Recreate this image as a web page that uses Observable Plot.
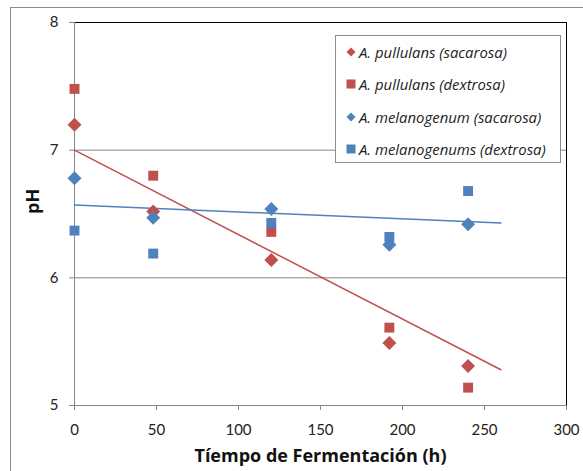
<!DOCTYPE html>
<html>
<head>
<meta charset="utf-8">
<script src="https://cdn.jsdelivr.net/npm/d3@7"></script>
<script src="https://cdn.jsdelivr.net/npm/@observablehq/plot@0.6"></script>
<style>
  html, body { margin: 0; padding: 0; background: #fff; }
  #wrap { position: relative; width: 583px; height: 471px; overflow: hidden; background: #fff; font-family: "Open Sans", Lato, sans-serif; }
  #frame { position: absolute; left: 10px; top: 7px; width: 640px; height: 520px; border: 1px solid #8c8c8c; box-sizing: border-box; }
  #chart { position: absolute; left: 0; top: 0; }
  #legend { position: absolute; left: 335px; top: 35px; width: 226px; height: 128px; border: 1px solid #8c8c8c; box-sizing: border-box; background: #fff; }
  .item { position: absolute; left: 0; height: 20px; display: flex; align-items: center; }
  .item svg { margin-left: 10px; margin-right: 3px; }
  .item span { font-style: italic; font-size: 14.9px; color: #222; white-space: nowrap; font-family: "Open Sans", sans-serif; }
</style>
</head>
<body>
<div id="wrap">
  <div id="frame"></div>
  <div id="chart"></div>
  <div id="legend"></div>
</div>
<script>
// ---- data ----
const hours = [0, 48, 120, 192, 240];
const pullulansSacarosa = [7.20, 6.52, 6.14, 5.49, 5.31];
const pullulansDextrosa = [7.48, 6.80, 6.36, 5.61, 5.14];
const melanogenumSacarosa = [6.78, 6.47, 6.54, 6.26, 6.42];
const melanogenumsDextrosa = [6.37, 6.19, 6.43, 6.32, 6.68];
const trendHours = [0, 260];
const trendPullulans = [7.00, 5.28];
const trendMelanogenum = [6.57, 6.43];
const xTicks = [0, 50, 100, 150, 200, 250, 300];
const yTicks = [5, 6, 7, 8];
const seriesNames = ["A. pullulans (sacarosa)", "A. pullulans (dextrosa)", "A. melanogenum (sacarosa)", "A. melanogenums (dextrosa)"];
const xLabel = "Tíempo de Fermentación (h)";
const yLabel = "pH";

const RED = "#C0504D", BLUE = "#4F81BD";
const seriesValues = [pullulansSacarosa, pullulansDextrosa, melanogenumSacarosa, melanogenumsDextrosa];
const seriesColors = [RED, RED, BLUE, BLUE];
const seriesSymbols = ["diamond2", "square", "diamond2", "square"];
const seriesR = [6.3, 5.6, 6.3, 5.6];

const toRows = (vals) => hours.map((h, i) => ({x: h, y: vals[i]}));
const trendRows = (vals) => trendHours.map((h, i) => ({x: h, y: vals[i]}));

const grid = "#878787";
const plot = Plot.plot({
  width: 583,
  height: 471,
  marginLeft: 74,
  marginRight: 17,
  marginTop: 22,
  marginBottom: 66,
  style: {fontFamily: "Lato, 'Open Sans', sans-serif", background: "transparent", overflow: "visible"},
  x: {domain: [0, 300]},
  y: {domain: [5, 8]},
  marks: [
    Plot.ruleY([6, 7], {stroke: grid}),
    Plot.ruleY([8], {stroke: "#000"}),
    Plot.ruleX([300], {stroke: "#000"}),
    Plot.ruleX([0], {stroke: grid}),
    Plot.ruleY([5], {stroke: grid}),
    Plot.axisX({ticks: xTicks, tickFormat: d3.format("d"), tickSize: 5, tickPadding: 14, fontSize: 15, label: null, stroke: grid, fill: "#222"}),
    Plot.axisY({ticks: yTicks, tickFormat: d3.format("d"), tickSize: 5, tickPadding: 11, fontSize: 15, label: null, stroke: grid, fill: "#222"}),
    Plot.line(trendRows(trendPullulans), {x: "x", y: "y", stroke: RED, strokeWidth: 1.5}),
    Plot.line(trendRows(trendMelanogenum), {x: "x", y: "y", stroke: BLUE, strokeWidth: 1.5}),
    ...seriesValues.map((vals, k) =>
      Plot.dot(toRows(vals), {x: "x", y: "y", symbol: seriesSymbols[k], r: seriesR[k], fill: seriesColors[k], stroke: null})
    ),
    Plot.text([xLabel], {frameAnchor: "bottom", dy: 56, fontSize: 18, fontWeight: "bold", fill: "#111", fontFamily: "'Open Sans', sans-serif"}),
    Plot.text([yLabel], {frameAnchor: "left", dx: -41, rotate: -90, fontSize: 18, fontWeight: "bold", fill: "#111", fontFamily: "'Open Sans', sans-serif"})
  ]
});
document.getElementById("chart").appendChild(plot);

// ---- legend ----
const legend = document.getElementById("legend");
const rowTops = [6, 38, 71, 103];
seriesNames.forEach((name, k) => {
  const item = document.createElement("div");
  item.className = "item";
  item.style.top = rowTops[k] + "px";
  const shape = seriesSymbols[k] === "square"
    ? `<rect x="0.5" y="0.5" width="9" height="9" fill="${seriesColors[k]}"/>`
    : `<path d="M5,0.5L9.5,5L5,9.5L0.5,5Z" fill="${seriesColors[k]}"/>`;
  item.innerHTML = `<svg width="10" height="10">${shape}</svg><span>${name}</span>`;
  legend.appendChild(item);
});
</script>
</body>
</html>
